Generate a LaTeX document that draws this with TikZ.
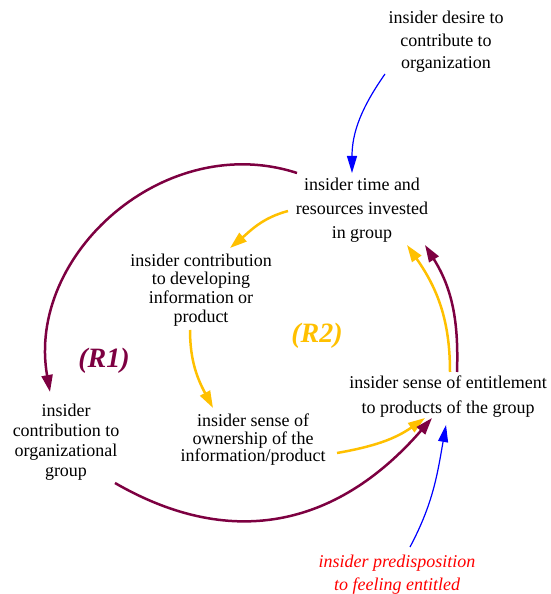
\documentclass[tikz,border=0pt]{standalone}
\usepackage{fontspec}
\setmainfont{Liberation Serif}
\usetikzlibrary{arrows.meta,calc}
\definecolor{loopred}{RGB}{125,0,65}
\definecolor{loopgold}{RGB}{255,192,0}
\begin{document}
\begin{tikzpicture}[x=1pt,y=1pt,
  var/.style={align=center,inner sep=0pt,font=\fontsize{18}{#1}\selectfont},
  looplabel/.style={inner sep=0pt,font=\fontsize{28}{30}\selectfont\bfseries\itshape},
  redarr/.style={draw=loopred,line width=2.5pt,-{Triangle[length=17pt,width=11pt]}},
  goldarr/.style={draw=loopgold,line width=2.5pt,-{Triangle[length=17pt,width=11pt]}},
  bluearr/.style={draw=blue,line width=1.2pt,-{Triangle[length=17pt,width=10pt]}}]
\useasboundingbox (0,0) rectangle (550,594);
\node[var=22.5] (desire) at (446,552) {insider desire to\\contribute to\\organization};
\node[var=24] (time) at (362,384) {insider time and\\resources invested\\in group};
\node[var=18.7] (dev) at (201,304) {insider contribution\\to developing\\information or\\product};
\node[var=17.5] (own) at (253,154) {insider sense of\\ownership of the\\information/product};
\node[var=25] (ent) at (448,197) {insider sense of entitlement\\to products of the group};
\node[var=20] (org) at (66,152) {insider\\contribution to\\organizational\\group};
\node[align=center,inner sep=0pt,text=red,font=\fontsize{18}{23}\selectfont\itshape] (pred) at (397,19) {insider predisposition\\to feeling entitled};
\node[looplabel,text=loopred] (r1) at (104,233) {(R1)};
\node[looplabel,text=loopgold] (r2) at (317,258) {(R2)};
\draw[bluearr] ($(desire)+(-61,-32)$) to[out=235,in=90] ($(time)+(-10,37)$);
\draw[redarr] ($(time)+(-65,37)$) to[out=162,in=100,looseness=1.08] ($(org)+(-16,50)$);
\draw[goldarr] ($(time)+(-74,-1)$) to[out=195,in=40] ($(dev)+(29,42)$);
\draw[goldarr] ($(dev)+(-11,-40)$) to[out=270,in=118] ($(own)+(-40,32)$);
\draw[goldarr] ($(own)+(84,-13)$) to[out=10,in=215] ($(ent)+(-23,-21)$);
\draw[redarr] ($(org)+(49,-41)$) to[out=-30,in=229,looseness=1.1] ($(ent)+(-16,-21)$);
\draw[bluearr] ($(pred)+(13,28)$) to[out=62,in=260] ($(ent)+(-2,-28)$);
\draw[goldarr] ($(ent)+(2,25)$) to[out=90,in=305] ($(time)+(45,-35)$);
\draw[redarr] ($(ent)+(9,25)$) to[out=88,in=302] ($(time)+(63,-35)$);
\end{tikzpicture}
\end{document}
